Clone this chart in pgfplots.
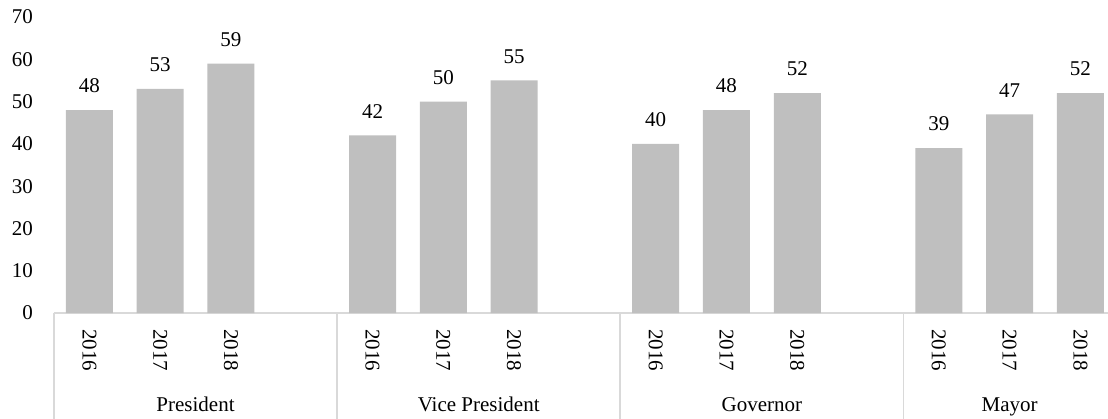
\documentclass[border=0pt]{standalone}
\usepackage{fontspec}
\setmainfont{Liberation Serif}
\usepackage{pgfplots}
\pgfplotsset{compat=1.18}
\definecolor{barg}{HTML}{BFBFBF}
\definecolor{axg}{HTML}{D9D9D9}
\begin{document}
\begin{tikzpicture}[font=\fontsize{10.5}{12.5}\selectfont]
\path[use as bounding box] (-27pt,-52.5pt) rectangle (527pt,156.5pt);
\begin{axis}[
  at={(0,0)}, anchor=south west,
  width=527pt, height=148pt, scale only axis,
  xmin=-0.5, xmax=14.39, ymin=0, ymax=70,
  ytick={0,10,...,70},
  xtick={0,1,2,4,5,6,8,9,10,12,13,14},
  xticklabels={2016,2017,2018,2016,2017,2018,2016,2017,2018,2016,2017,2018},
  axis x line*=bottom, axis y line*=left,
  y axis line style={draw=none},
  x axis line style={draw=axg, line width=0.8pt},
  major tick length=0pt,
  /pgf/number format/assume math mode=true,
  yticklabel style={xshift=-7pt},
  xticklabel style={yshift=-4.7pt, rotate=-90, anchor=west},
  ybar, bar width=23.5pt,
  clip=false,
  nodes near coords,
  nodes near coords style={anchor=center, yshift=12pt, text=black},
]
\addplot[fill=barg, draw=none] coordinates {
  (0,48) (1,53) (2,59)
  (4,42) (5,50) (6,55)
  (8,40) (9,48) (10,52)
  (12,39) (13,47) (14,52)
};
\draw[axg, line width=0.8pt] (axis cs:-0.5,0) -- ([yshift=-60pt]axis cs:-0.5,0);
\draw[axg, line width=0.8pt] (axis cs:3.5,0) -- ([yshift=-60pt]axis cs:3.5,0);
\draw[axg, line width=0.8pt] (axis cs:7.5,0) -- ([yshift=-60pt]axis cs:7.5,0);
\draw[axg, line width=0.8pt] (axis cs:11.5,0) -- ([yshift=-60pt]axis cs:11.5,0);
\node[anchor=base] at ([yshift=-49pt]axis cs:1.5,0) {President};
\node[anchor=base] at ([yshift=-49pt]axis cs:5.5,0) {Vice President};
\node[anchor=base] at ([yshift=-49pt]axis cs:9.5,0) {Governor};
\node[anchor=base] at ([yshift=-49pt]axis cs:13,0) {Mayor};
\end{axis}
\end{tikzpicture}
\end{document}
